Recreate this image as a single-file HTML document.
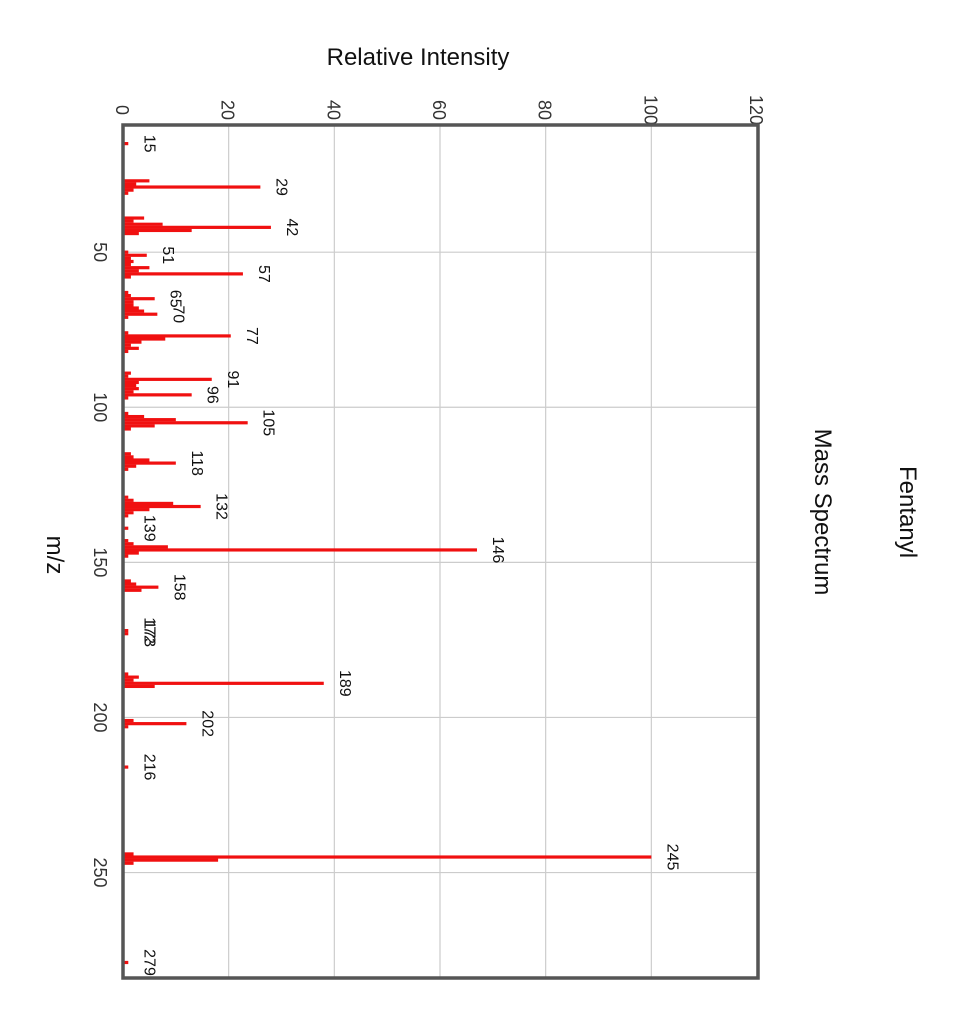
<!DOCTYPE html>
<html><head><meta charset="utf-8"><style>
body{margin:0;background:#fff;}
svg{display:block;font-family:"Liberation Sans",sans-serif;}
</style></head><body>
<svg id="chart" width="959" height="1024" xmlns="http://www.w3.org/2000/svg">
<text x="418" y="65" font-size="24" text-anchor="middle" fill="#111">Relative Intensity</text>
<text transform="translate(47,555) rotate(90)" font-size="24" text-anchor="middle" fill="#111">m/z</text>
<text transform="translate(900,512) rotate(90)" font-size="24" text-anchor="middle" fill="#111">Fentanyl</text>
<text transform="translate(815,512) rotate(90)" font-size="24" text-anchor="middle" fill="#111">Mass Spectrum</text>
<g id="grid"></g>
<g id="bars"></g>
<g id="labels"></g>
<g id="ticks"></g>
<rect x="123" y="125" width="635" height="853" fill="none" stroke="#555" stroke-width="3.5"/>
</svg>
<script>
const mzValues=[15,27,28,29,30,31,39,40,41,42,43,44,50,51,52,53,54,55,56,57,58,63,64,65,66,67,68,69,70,71,76,77,78,79,80,81,82,89,90,91,92,93,94,95,96,97,102,103,104,105,106,107,115,116,117,118,119,120,129,130,131,132,133,134,135,139,143,144,145,146,147,148,156,157,158,159,172,173,186,187,188,189,190,201,202,203,216,244,245,246,247,279];
const intensities=[1,5,2.5,26,2,1,4,2,7.5,28,13,3,1,4.5,1.5,2,1.5,5,3,22.7,1.5,1,1.5,6,2,2,3,4,6.5,1,1,20.4,8,3.5,1.5,3,1,1.5,1,16.8,3,2.5,3,2,13,1,1,4,10,23.6,6,1.5,1.5,2,5,10,2.5,1,1,2,9.5,14.7,5,2,1,1,1,2,8.5,67,3,1,1.5,2.5,6.7,3.5,1,1,1,3,2,38,6,2,12,1,1,2,100,18,2,1];
const labelMz=[15,29,42,51,57,65,70,77,91,96,105,118,132,139,146,158,172,173,189,202,216,245,279];
const labelIntensity=[1,26,28,4.5,22.7,6,6.5,20.4,16.8,13,23.6,10,14.7,1,67,6.7,1,1,38,12,1,100,1];
const xTicks=[0,20,40,60,80,100,120];
const yTicks=[50,100,150,200,250];
const NS='http://www.w3.org/2000/svg';
const X0=123,X1=757,Y0=125,Y1=978,MZMIN=9,MZMAX=284;
function xS(v){return X0+v/120*(X1-X0);}
function yS(m){return Y0+(m-MZMIN)/(MZMAX-MZMIN)*(Y1-Y0);}
function mk(t,a,p){const e=document.createElementNS(NS,t);for(const k in a)e.setAttribute(k,a[k]);p.appendChild(e);return e;}
const grid=document.getElementById('grid'),bars=document.getElementById('bars'),labels=document.getElementById('labels'),ticks=document.getElementById('ticks');
xTicks.forEach(v=>{
 const l=mk('line',{x1:xS(v),x2:xS(v),y1:Y0,y2:Y1,stroke:'#ccc','stroke-width':1.2},grid);
 
 
 const t=mk('text',{transform:`translate(${xS(v)-7},110) rotate(90)`,'font-size':18,'text-anchor':'middle',fill:'#333'},ticks);
 t.textContent=v;
 
 
});
yTicks.forEach(v=>{
 const l=mk('line',{x1:X0,x2:X1,y1:yS(v),y2:yS(v),stroke:'#ccc','stroke-width':1.2},grid);
 
 
 const t=mk('text',{transform:`translate(94,${yS(v)}) rotate(90)`,'font-size':18,'text-anchor':'middle',fill:'#333'},ticks);
 t.textContent=v;
 
 
});
mzValues.forEach((m,i)=>{
 const r=mk('rect',{x:X0,y:yS(m)-1.6,width:Math.max(1,xS(intensities[i])-X0),height:3.2,fill:'#f01010'},bars);
 
 
});
labelMz.forEach((m,i)=>{
 const t=mk('text',{transform:`translate(${xS(labelIntensity[i])+16},${yS(m)}) rotate(90)`,'font-size':16,'text-anchor':'middle',fill:'#111'},labels);
 t.textContent=m;
 
 
});
</script>
</body></html>
